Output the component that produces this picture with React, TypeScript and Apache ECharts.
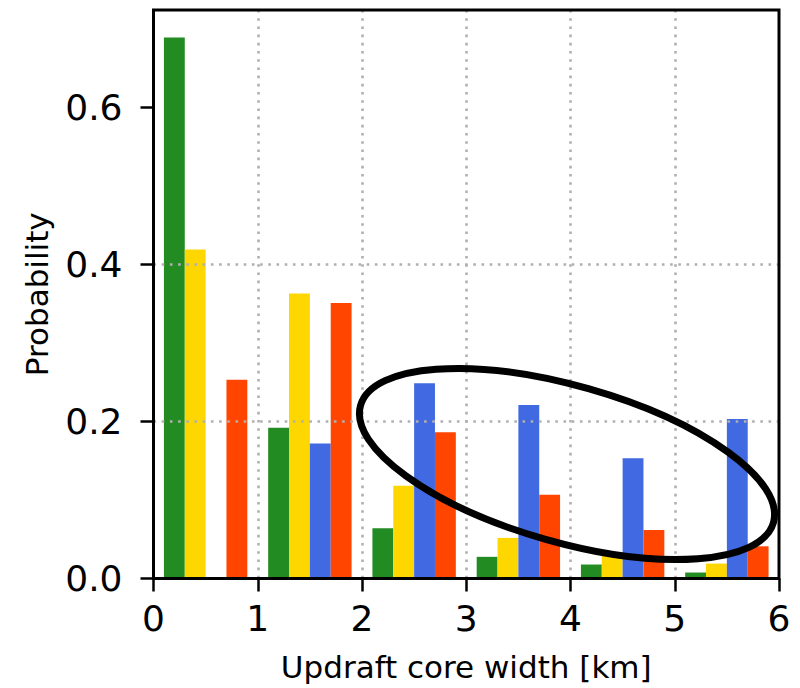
import React, { useEffect, useRef } from "react";
import * as echarts from "echarts";

const binStarts = [0, 1, 2, 3, 4, 5];
const seriesNames = ["green", "gold", "blue", "red"];
const greenVals = [0.689, 0.192, 0.064, 0.0276, 0.0178, 0.0076];
const goldVals = [0.419, 0.363, 0.118, 0.0517, 0.033, 0.019];
const blueVals = [0, 0.172, 0.2487, 0.221, 0.1533, 0.203];
const redVals = [0.253, 0.351, 0.1864, 0.1067, 0.0619, 0.041];
const colors = ["#228B22", "#FFD700", "#4169E1", "#FF4500"];
const xTicks = [0, 1, 2, 3, 4, 5, 6];
const yTicks = [0, 0.2, 0.4, 0.6];
const Y_MAX = 0.724;
const BAR_W = 0.2;
const BAR_OFFSET = 0.1;

const FONT = "DejaVu Sans";
const G_LEFT = 153.5;
const G_RIGHT = 21;
const G_TOP = 10;
const G_BOTTOM = 109.5;
const W = 800;
const H = 688;

export default function App() {
  const ref = useRef<HTMLDivElement>(null);
  useEffect(() => {
    if (!ref.current) return;
    const chart = echarts.init(ref.current, undefined, { renderer: "svg" });
    const allVals = [greenVals, goldVals, blueVals, redVals];
    const series = allVals.map((vals, k) => ({
      type: "custom",
      name: seriesNames[k],
      z: 2,
      data: binStarts.map((b, i) => [b + BAR_OFFSET + k * BAR_W, vals[i]]),
      renderItem: (_p: any, api: any) => {
        const x0 = api.value(0);
        const v = api.value(1);
        const p0 = api.coord([x0, v]);
        const p1 = api.coord([x0 + BAR_W, 0]);
        return {
          type: "rect",
          shape: { x: p0[0], y: p0[1], width: p1[0] - p0[0], height: p1[1] - p0[1] },
          style: { fill: colors[k] },
        };
      },
    }));
    const gridDash = { color: "#b0b0b0", width: 2.6, type: [2.6, 5.6] as any };
    chart.setOption({
      animation: false,
      grid: {
        left: G_LEFT,
        right: G_RIGHT,
        top: G_TOP,
        bottom: G_BOTTOM,
        show: false,
      },
      xAxis: {
        type: "value",
        min: 0,
        max: 6,
        interval: 1,
        z: 3,
        name: "Updraft core width [km]",
        nameLocation: "middle",
        nameGap: 73,
        nameTextStyle: { fontFamily: FONT, fontSize: 31, color: "#000" },
        axisLine: { show: false },
        axisTick: { show: true, length: 13, lineStyle: { color: "#000", width: 2.5 }, customValues: xTicks },
        axisLabel: { fontFamily: FONT, fontSize: 36, color: "#000", margin: 22, customValues: xTicks },
        splitLine: { show: true, showMinLine: false, showMaxLine: false, lineStyle: gridDash },
      },
      yAxis: {
        type: "value",
        min: 0,
        max: Y_MAX,
        interval: 0.2,
        z: 3,
        name: "Probability",
        nameLocation: "middle",
        nameGap: 101,
        nameTextStyle: { fontFamily: FONT, fontSize: 31, color: "#000" },
        axisLine: { show: false },
        axisTick: { show: true, length: 13, lineStyle: { color: "#000", width: 2.5 }, customValues: yTicks },
        axisLabel: {
          fontFamily: FONT,
          fontSize: 36,
          color: "#000",
          margin: 31,
          customValues: yTicks,
          formatter: (v: number) => v.toFixed(1),
        },
        splitLine: { show: true, showMinLine: false, showMaxLine: false, lineStyle: gridDash },
      },
      series,
      graphic: [
        {
          type: "rect",
          x: G_LEFT,
          y: G_TOP,
          z: 50,
          shape: { x: 0, y: 0, width: W - G_RIGHT - G_LEFT, height: H - G_BOTTOM - G_TOP },
          style: { fill: "none", stroke: "#000", lineWidth: 3 },
        },
        {
          type: "ellipse",
          x: 567,
          y: 464,
          rotation: -0.277,
          z: 100,
          shape: { cx: 0, cy: 0, rx: 214.6, ry: 78.3 },
          style: { fill: "none", stroke: "#000", lineWidth: 7 },
        },
      ],
    });
    return () => chart.dispose();
  }, []);
  return (
    <div
      ref={ref}
      style={{ position: "fixed", left: 0, top: 0, width: W, height: H, background: "#fff" }}
    />
  );
}
